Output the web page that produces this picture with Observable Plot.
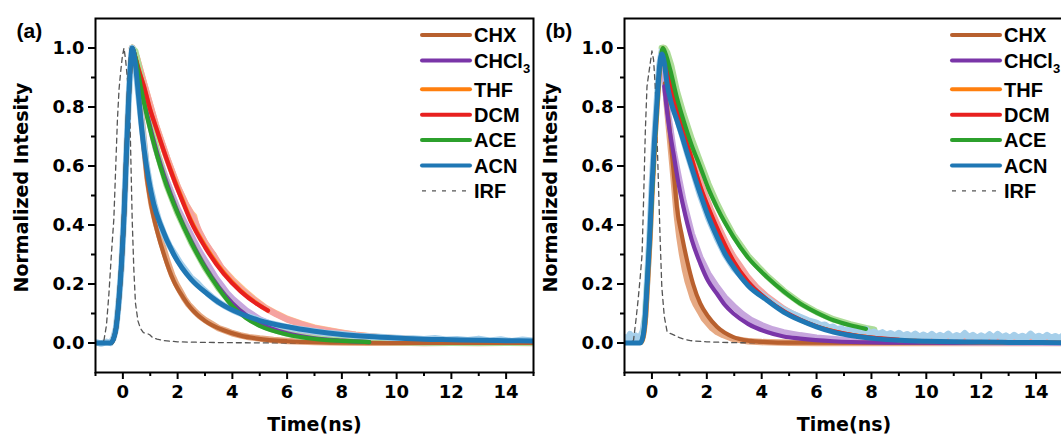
<!DOCTYPE html>
<html><head><meta charset="utf-8">
<script src="https://cdn.jsdelivr.net/npm/d3@7"></script>
<script src="https://cdn.jsdelivr.net/npm/@observablehq/plot@0.6"></script>
<style>
html,body{margin:0;padding:0;background:#fff;overflow:hidden;}
#wrap{display:flex;width:1080px;height:439px;}
.panel{position:relative;flex:none;}
.panel svg.leg{position:absolute;left:0;top:0;pointer-events:none;overflow:visible;}
</style></head><body><div id="wrap"></div>
<script>
// ---------- categories & labels ----------
const seriesNames = ["CHX", "CHCl3", "THF", "DCM", "ACE", "ACN"];
const fitColors = ["#b8602e", "#7a35a8", "#ff7f0e", "#e8201f", "#2ca02c", "#1f77b4"];
const rawColors = ["#e6a983", "#c7a6dd", "#ffc48a", "#f5a3a0", "#acdc97", "#a6cfea"];
const irfColor = "#555555";
const xMajorTicks = [0, 2, 4, 6, 8, 10, 12, 14];
const xMinorTicks = [-1, 1, 3, 5, 7, 9, 11, 13, 15];
const yMajorTicks = [0, 0.2, 0.4, 0.6, 0.8, 1.0];
const yMinorTicks = [0.1, 0.3, 0.5, 0.7, 0.9];
const xTitle = "Time(ns)";
const yTitle = "Normalized Intesity";
const panelLabels = ["(a)", "(b)"];

// ---------- panel (a) fitted curves [time ns, intensity] ----------
const aRise = [[-1,0],[-0.45,0],[-0.35,0.012],[-0.25,0.05],[-0.15,0.14],[-0.05,0.27],[0.05,0.45],[0.12,0.62],[0.2,0.8],[0.27,0.93],[0.34,1.0]];
const aFitCHX = aRise.concat([[0.45,0.95],[0.55,0.88],[0.7,0.72],[0.89,0.55],[1.05,0.46],[1.25,0.38],[1.5,0.3],[1.86,0.21],[2.2,0.155],[2.47,0.12],[3,0.075],[3.68,0.043],[4.3,0.025],[4.9,0.015],[6,0.006],[7,0.003],[8,0.001],[10,0],[15,0]]);
const aFitCHCl3 = aRise.concat([[0.45,0.97],[0.65,0.88],[0.9,0.77],[1.25,0.645],[1.5,0.57],[2,0.445],[2.5,0.345],[3,0.26],[3.5,0.19],[4,0.135],[4.5,0.095],[5,0.066],[6,0.033],[7,0.016],[8,0.008],[9,0.003]]);
const aFitTHF = aRise.concat([[0.45,0.97],[0.6,0.92],[0.77,0.87],[1.0,0.79],[1.25,0.72],[1.5,0.65],[1.86,0.56],[2.2,0.48],[2.47,0.42],[3,0.33],[3.68,0.24],[4.3,0.178],[4.9,0.134],[5.3,0.11]]);
const aFitDCM = aRise.concat([[0.45,0.97],[0.6,0.92],[0.77,0.87],[1.0,0.79],[1.25,0.72],[1.5,0.65],[1.86,0.555],[2.2,0.475],[2.47,0.415],[3,0.325],[3.68,0.235],[4.3,0.175],[4.9,0.132],[5.3,0.11]]);
const aFitACE = aRise.concat([[0.45,0.97],[0.65,0.87],[0.9,0.76],[1.25,0.635],[1.5,0.56],[2,0.44],[2.5,0.34],[3,0.255],[3.5,0.185],[4,0.125],[4.5,0.085],[5,0.058],[6,0.029],[7,0.014],[8,0.007],[9,0.003]]);
const aFitACN = aRise.concat([[0.45,0.95],[0.52,0.89],[0.65,0.76],[0.77,0.66],[0.95,0.55],[1.13,0.47],[1.4,0.395],[1.86,0.3],[2.5,0.215],[3.07,0.168],[3.6,0.132],[4.29,0.1],[5,0.076],[6,0.055],[7,0.04],[8,0.029],[9,0.022],[10,0.017],[11,0.013],[12,0.011],[13,0.009],[14,0.008],[15,0.007]]);
const aIRF = [[-1,0],[-0.85,0],[-0.75,0.003],[-0.69,0.01],[-0.6,0.06],[-0.51,0.167],[-0.42,0.3],[-0.33,0.42],[-0.26,0.6],[-0.2,0.755],[-0.14,0.86],[-0.08,0.92],[-0.02,0.97],[0.04,1.0],[0.1,0.96],[0.18,0.88],[0.26,0.755],[0.34,0.42],[0.4,0.25],[0.46,0.135],[0.55,0.075],[0.64,0.05],[0.75,0.035],[0.89,0.032],[0.98,0.028],[1.07,0.02],[1.25,0.013],[1.5,0.008],[2,0.004],[3,0.002],[4,0.001],[6,0],[15,0]];

// ---------- panel (a) measured decays ----------
const aRawCHX = [[0.34,1],[0.45,0.95],[0.6,0.84],[0.75,0.7],[0.9,0.56],[1.05,0.47],[1.2,0.41],[1.35,0.36],[1.5,0.315],[1.65,0.27],[1.8,0.23],[1.95,0.2],[2.1,0.175],[2.25,0.15],[2.4,0.13],[2.6,0.11],[2.8,0.092],[3,0.078],[3.25,0.064],[3.5,0.05],[3.75,0.042],[4,0.033],[4.3,0.026],[4.6,0.02],[5,0.015],[5.5,0.01],[6,0.007],[7,0.003],[8,0.002],[9,0.001],[10,0.002],[11,0],[12,0.001],[13,0],[14,0.001],[15,0]];
const aRawCHCl3 = [[0.34,1],[0.5,0.96],[0.8,0.82],[1.2,0.66],[1.6,0.55],[2,0.455],[2.3,0.4],[2.6,0.345],[2.8,0.31],[3,0.28],[3.2,0.25],[3.4,0.22],[3.6,0.195],[3.8,0.17],[4,0.15],[4.5,0.11],[5,0.08],[5.5,0.06],[6,0.045],[7,0.025],[8,0.015],[9,0.008],[10,0.005],[12,0.002],[15,0.001]];
const aRawTHF = [[0.34,1],[0.5,0.97],[0.8,0.87],[1.2,0.74],[1.6,0.63],[2,0.53],[2.3,0.47],[2.5,0.44],[2.6,0.43],[2.7,0.39],[3,0.34],[3.2,0.31],[3.3,0.3],[3.45,0.27],[3.7,0.245],[4,0.215],[4.4,0.18],[4.8,0.148],[5.2,0.12],[5.6,0.1],[6,0.082],[6.5,0.066],[7,0.052],[7.5,0.043],[8,0.035],[8.5,0.028],[9,0.023],[9.5,0.019],[10,0.016],[11,0.011],[12,0.008],[13,0.006],[14,0.004],[15,0.003]];
const aRawDCM = [[0.34,1],[0.5,0.97],[0.8,0.87],[1.2,0.74],[1.6,0.63],[2,0.53],[2.3,0.47],[2.6,0.42],[2.8,0.375],[3,0.34],[3.3,0.3],[3.6,0.255],[4,0.21],[4.4,0.175],[4.8,0.145],[5.2,0.118],[5.6,0.098],[6,0.08],[6.5,0.064],[7,0.05],[7.5,0.042],[8,0.034],[8.5,0.027],[9,0.022],[9.5,0.018],[10,0.015],[11,0.01],[12,0.007],[13,0.005],[14,0.004],[15,0.003]];
const aRawACE = [[0.34,1],[0.45,0.99],[0.55,0.95],[0.7,0.88],[1,0.75],[1.3,0.63],[1.6,0.535],[2,0.44],[2.5,0.34],[3,0.255],[3.5,0.185],[4,0.13],[4.5,0.09],[5,0.062],[5.5,0.045],[6,0.032],[6.5,0.022],[7,0.016],[7.5,0.012],[8,0.009],[9,0.005],[10,0.003],[11,0.002],[12,0.001],[15,0.001]];
const aRawACN = [[-1,0.003],[-0.8,-0.002],[-0.6,0.004],[-0.45,0],[-0.35,0.015],[-0.25,0.05],[-0.15,0.14],[-0.05,0.26],[0.05,0.45],[0.12,0.62],[0.2,0.8],[0.27,0.93],[0.34,1.0],[0.45,0.95],[0.55,0.86],[0.7,0.73],[0.85,0.61],[1.0,0.53],[1.15,0.47],[1.3,0.42],[1.5,0.37],[1.7,0.33],[1.9,0.3],[2.1,0.27],[2.3,0.245],[2.5,0.22],[2.7,0.205],[2.9,0.185],[3.1,0.168],[3.3,0.152],[3.5,0.138],[3.7,0.127],[4,0.112],[4.3,0.1],[4.6,0.09],[5,0.077],[5.4,0.066],[5.8,0.058],[6.2,0.05],[6.6,0.045],[7,0.04],[7.4,0.034],[7.8,0.031],[8.2,0.028],[8.6,0.024],[9,0.022],[9.4,0.02],[9.8,0.018],[10.2,0.016],[10.6,0.015],[11,0.013],[11.4,0.016],[11.8,0.011],[12.2,0.013],[12.6,0.009],[13,0.014],[13.4,0.008],[13.8,0.012],[14.2,0.006],[14.6,0.011],[15,0.007]];

// ---------- panel (b) fitted curves ----------
const bRise = [[-1,0],[-0.43,0],[-0.33,0.02],[-0.25,0.08],[-0.18,0.19],[-0.08,0.36],[0,0.53],[0.09,0.68],[0.18,0.81],[0.27,0.93],[0.36,0.98]];
const bFitCHX = [[0.47,0.88],[0.55,0.8],[0.61,0.755],[0.73,0.64],[0.82,0.55],[0.91,0.46],[1.1,0.36],[1.28,0.28],[1.5,0.2],[1.76,0.134],[2.05,0.09],[2.37,0.055],[2.97,0.02],[3.5,0.008],[4.2,0.003],[5,0.001],[15,0]];
const bFitCHCl3 = [[0.45,0.87],[0.6,0.75],[0.79,0.64],[0.95,0.55],[1.15,0.46],[1.45,0.35],[1.76,0.27],[2.05,0.21],[2.37,0.167],[2.65,0.13],[2.97,0.1],[3.5,0.065],[4.19,0.037],[4.8,0.022],[5.4,0.015],[6.6,0.006],[8,0.002],[10,0.001],[15,0]];
const bFitTHF = [[-1,0],[-0.4,0],[-0.3,0.02],[-0.22,0.08],[-0.15,0.19],[-0.05,0.36],[0.03,0.53],[0.12,0.68],[0.21,0.81],[0.3,0.93],[0.4,1.0],[0.5,0.97],[0.7,0.88],[1.0,0.76],[1.4,0.64],[1.76,0.528],[2.13,0.438],[2.5,0.36],[2.97,0.275],[3.5,0.205],[4.19,0.147],[4.8,0.107],[5.4,0.078],[6,0.056],[7,0.032],[8,0.018],[9,0.01],[10,0.006],[12,0.002],[15,0.001]];
const bFitDCM = [[0.45,0.98],[0.7,0.87],[1.0,0.76],[1.4,0.64],[1.76,0.532],[2.13,0.442],[2.5,0.364],[2.97,0.278],[3.5,0.208],[4.19,0.148],[4.8,0.108],[5.4,0.079],[6,0.056],[7,0.032],[8,0.018],[9,0.011]];
const bFitACE = [[-1,0],[-0.42,0],[-0.3,0.04],[-0.2,0.17],[-0.1,0.33],[0,0.5],[0.1,0.68],[0.2,0.83],[0.3,0.95],[0.4,1.0],[0.5,0.98],[0.67,0.925],[0.9,0.835],[1.15,0.755],[1.45,0.67],[1.76,0.597],[2.05,0.525],[2.37,0.46],[2.65,0.41],[2.97,0.36],[3.5,0.29],[4.19,0.224],[4.8,0.175],[5.4,0.134],[6,0.103],[6.62,0.077],[7.23,0.06],[7.8,0.048]];
const bFitACN = bRise.concat([[0.45,0.95],[0.55,0.88],[0.7,0.815],[0.91,0.755],[1.1,0.7],[1.28,0.645],[1.5,0.58],[1.76,0.506],[2.05,0.43],[2.37,0.36],[2.65,0.305],[2.97,0.258],[3.5,0.195],[4.19,0.145],[4.8,0.105],[5.4,0.077],[6,0.055],[6.62,0.037],[7.5,0.022],[8.2,0.014],[9.05,0.009],[10,0.006],[11,0.004],[12,0.003],[13,0.002],[15,0.001]]);
const bIRF = [[-1,0],[-0.8,0],[-0.7,0.005],[-0.67,0.01],[-0.58,0.08],[-0.5,0.15],[-0.43,0.22],[-0.36,0.3],[-0.3,0.5],[-0.24,0.72],[-0.18,0.87],[-0.12,0.91],[-0.06,0.95],[0,0.99],[0.06,0.96],[0.12,0.87],[0.18,0.72],[0.24,0.53],[0.3,0.35],[0.36,0.19],[0.45,0.09],[0.55,0.04],[0.64,0.033],[0.73,0.03],[0.85,0.025],[1.03,0.017],[1.2,0.012],[1.4,0.008],[2,0.004],[3,0.001],[5,0],[15,0]];

// ---------- panel (b) measured decays ----------
const bRawCHX = [[0.36,0.98],[0.45,0.92],[0.55,0.8],[0.65,0.7],[0.75,0.6],[0.91,0.43],[1.0,0.36],[1.1,0.3],[1.2,0.25],[1.3,0.21],[1.4,0.18],[1.5,0.15],[1.6,0.13],[1.76,0.105],[1.9,0.082],[2.05,0.066],[2.2,0.05],[2.37,0.038],[2.6,0.027],[2.97,0.014],[3.5,0.006],[4,0.003],[5,0.001],[6,0],[15,0]];
const bRawCHCl3 = [[0.42,0.92],[0.6,0.77],[0.79,0.65],[1.0,0.55],[1.15,0.48],[1.45,0.37],[1.76,0.29],[2.05,0.235],[2.37,0.19],[2.65,0.155],[2.97,0.125],[3.3,0.098],[3.6,0.078],[4.0,0.06],[4.4,0.046],[4.8,0.036],[5.4,0.026],[6,0.018],[7,0.01],[8,0.006],[9,0.004],[10,0.003],[12,0.002],[15,0.001]];
const bRawTHF = [[0.4,1],[0.5,0.97],[0.7,0.885],[1.0,0.765],[1.4,0.65],[1.76,0.54],[2.13,0.45],[2.5,0.37],[2.8,0.32],[2.97,0.288],[3.2,0.255],[3.5,0.215],[3.8,0.185],[4.19,0.152],[4.5,0.13],[4.8,0.112],[5.1,0.097],[5.4,0.083],[6,0.06],[6.5,0.047],[7,0.036],[8,0.022],[9,0.014],[10,0.01],[12,0.006],[15,0.004]];
const bRawDCM = [[0.4,1],[0.5,0.97],[0.7,0.88],[1.0,0.77],[1.4,0.655],[1.76,0.545],[2.13,0.455],[2.5,0.378],[2.8,0.32],[2.97,0.293],[3.2,0.262],[3.5,0.222],[3.8,0.19],[4.19,0.157],[4.5,0.136],[4.8,0.116],[5.1,0.1],[5.4,0.086],[6,0.062],[6.5,0.048],[7,0.038],[8,0.024],[9,0.016],[10,0.012],[12,0.008],[15,0.005]];
const bRawACE = [[0.36,1.0],[0.45,1.0],[0.55,0.985],[0.7,0.94],[0.9,0.855],[1.15,0.775],[1.45,0.69],[1.76,0.612],[2.05,0.54],[2.37,0.472],[2.65,0.42],[2.97,0.366],[3.5,0.295],[4.19,0.227],[4.8,0.177],[5.4,0.136],[6,0.105],[6.62,0.08],[7.23,0.063],[7.8,0.05],[8.1,0.045]];
const bRawACN = [[-1,0.02],[-0.9,0.012],[-0.8,0.03],[-0.7,0.015],[-0.6,0.025],[-0.5,0.01],[-0.43,0.02],[-0.33,0.04],[-0.25,0.09],[-0.18,0.2],[-0.08,0.37],[0,0.54],[0.09,0.69],[0.18,0.82],[0.27,0.94],[0.36,0.99],[0.45,0.98],[0.55,0.92],[0.7,0.84],[0.91,0.765],[1.1,0.705],[1.28,0.645],[1.5,0.58],[1.76,0.5],[2.05,0.425],[2.37,0.355],[2.65,0.302],[2.97,0.255],[3.3,0.222],[3.6,0.192],[3.9,0.17],[4.2,0.15],[4.5,0.13],[4.8,0.113],[5.1,0.1],[5.4,0.088],[5.7,0.076],[6,0.068],[6.15,0.06],[6.3,0.062],[6.45,0.052],[6.6,0.055],[6.75,0.046],[6.9,0.05],[7.05,0.041],[7.2,0.045],[7.35,0.037],[7.5,0.048],[7.65,0.036],[7.8,0.047],[7.95,0.032],[8.1,0.038],[8.25,0.03],[8.4,0.036],[8.55,0.027],[8.7,0.033],[8.85,0.025],[9.0,0.034],[9.15,0.024],[9.3,0.03],[9.45,0.022],[9.6,0.031],[9.75,0.021],[9.9,0.028],[10.05,0.02],[10.2,0.03],[10.35,0.019],[10.5,0.027],[10.65,0.02],[10.8,0.031],[10.95,0.018],[11.1,0.026],[11.25,0.02],[11.4,0.033],[11.55,0.019],[11.7,0.027],[11.85,0.017],[12.0,0.025],[12.15,0.018],[12.3,0.029],[12.45,0.017],[12.6,0.03],[12.75,0.019],[12.9,0.025],[13.05,0.016],[13.2,0.027],[13.35,0.018],[13.5,0.024],[13.65,0.017],[13.8,0.031],[13.95,0.018],[14.1,0.024],[14.25,0.016],[14.4,0.027],[14.55,0.017],[14.7,0.023],[14.85,0.016],[15.0,0.026],[15.2,0.018]];

// ---------- build tables ----------
function toRows(arrs) {
  return arrs.flatMap((arr, i) => arr.map(([t, v]) => ({series: seriesNames[i], t, v, fit: fitColors[i], raw: rawColors[i]})));
}
const panels = [
  {label: panelLabels[0], fits: toRows([aFitCHX, aFitCHCl3, aFitTHF, aFitDCM, aFitACE, aFitACN]),
   raws: toRows([aRawCHX, aRawCHCl3, aRawTHF, aRawDCM, aRawACE, aRawACN]), irf: aIRF.map(([t, v]) => ({t, v})),
   width: 540, marginLeft: 95, marginRight: 7},
  {label: panelLabels[1], fits: toRows([bFitCHX, bFitCHCl3, bFitTHF, bFitDCM, bFitACE, bFitACN]),
   raws: toRows([bRawCHX, bRawCHCl3, bRawTHF, bRawDCM, bRawACE, bRawACN]), irf: bIRF.map(([t, v]) => ({t, v})),
   width: 533, marginLeft: 84, marginRight: 10}
];

const FONT = '"Liberation Sans", Arial, Helvetica, sans-serif';
const AXFONT = '"DejaVu Sans", Verdana, sans-serif';
const wrap = document.getElementById("wrap");

panels.forEach(p => {
  const chart = Plot.plot({
    width: p.width, height: 439,
    marginLeft: p.marginLeft, marginRight: p.marginRight, marginTop: 18, marginBottom: 67,
    x: {domain: [-1, 15]},
    y: {domain: [-0.1, 1.1]},
    style: {fontFamily: AXFONT, fontWeight: "bold", fontSize: "18px", color: "#000", background: "transparent", overflow: "visible"},
    marks: [
      Plot.line(p.raws, {x: "t", y: "v", z: "series", stroke: "raw", strokeWidth: 6.5, curve: "linear", clip: true}),
      Plot.line(p.irf, {x: "t", y: "v", stroke: irfColor, strokeWidth: 1.3, strokeDasharray: "5,4", curve: "linear", clip: true}),
      Plot.line(p.fits.filter(d => d.series !== "ACN"), {x: "t", y: "v", z: "series", stroke: "fit", strokeWidth: 4.2, curve: "monotone-x", clip: true}),
      Plot.line(p.fits.filter(d => d.series === "ACN"), {x: "t", y: "v", z: "series", stroke: "fit", strokeWidth: 5, curve: "monotone-x", clip: true}),
      Plot.axisX({ticks: xMajorTicks, tickSize: 7, tickPadding: 6, strokeWidth: 2, tickFormat: d => String(d), label: null}),
      Plot.axisX({ticks: xMinorTicks, tickSize: 4, strokeWidth: 2, tickFormat: () => "", label: null}),
      Plot.axisY({ticks: yMajorTicks, tickSize: 7, tickPadding: 4, strokeWidth: 2, tickFormat: d3.format(".1f"), label: null}),
      Plot.axisY({ticks: yMinorTicks, tickSize: 4, strokeWidth: 2, tickFormat: () => "", label: null}),
      Plot.frame({stroke: "#000", strokeWidth: 2}),
      Plot.text([yTitle], {text: d => d, frameAnchor: "left", textAnchor: "middle", lineAnchor: "middle", rotate: -90, dx: -74, dy: -8, fontSize: 19, fontWeight: "bold", fill: "#000"}),
      Plot.text([xTitle], {text: d => d, frameAnchor: "bottom", textAnchor: "middle", lineAnchor: "middle", dy: 52, fontSize: 19, fontWeight: "bold", fill: "#000"}),
      Plot.text([p.label], {text: d => d, frameAnchor: "top-left", textAnchor: "start", lineAnchor: "middle", dx: -79, dy: 13, fontSize: 21, fontFamily: FONT, fontWeight: "bold", fill: "#000"})
    ]
  });

  const div = document.createElement("div");
  div.className = "panel";
  div.style.width = p.width + "px";
  div.style.height = "439px";
  div.appendChild(chart);

  // legend overlay (positioned from the frame's right edge)
  const frameRight = p.width - p.marginRight;
  const lx1 = frameRight - 111, lx2 = frameRight - 63, tx = frameRight - 59;
  const leg = d3.create("svg").attr("class", "leg").attr("width", p.width).attr("height", 439)
    .style("font-family", FONT).style("font-weight", "bold").style("font-size", "20px");
  const entries = seriesNames.map((s, i) => ({name: s, color: fitColors[i], dash: null, w: 4}))
    .concat([{name: "IRF", color: irfColor, dash: "4,6", w: 1.3}]);
  entries.forEach((e, i) => {
    const y = 35 + i * 25.4 + (i >= 2 ? 3.5 : 0);
    leg.append("line").attr("x1", lx1).attr("x2", lx2).attr("y1", y).attr("y2", y)
      .attr("stroke", e.color).attr("stroke-width", e.w).attr("stroke-linecap", e.dash ? "butt" : "round")
      .attr("stroke-dasharray", e.dash);
    const t = leg.append("text").attr("x", tx).attr("y", y).attr("dy", "0.36em").attr("fill", "#000");
    if (e.name === "CHCl3") {
      t.append("tspan").text("CHCl");
      t.append("tspan").text("3").attr("font-size", "13px").attr("dy", "5");
    } else {
      t.text(e.name);
    }
  });
  div.appendChild(leg.node());
  wrap.appendChild(div);
});
</script></body></html>
